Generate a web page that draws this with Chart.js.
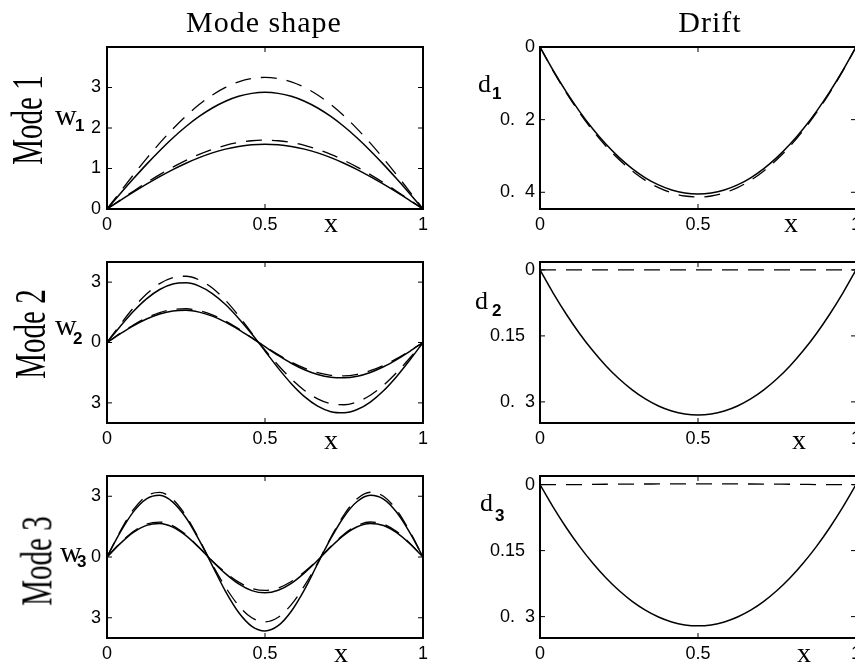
<!DOCTYPE html>
<html><head><meta charset="utf-8">
<script src="https://cdn.jsdelivr.net/npm/chart.js@4.4.1/dist/chart.umd.min.js"></script>
<style>
html,body{margin:0;padding:0;background:#fff;width:855px;height:665px;overflow:hidden;position:relative}
.box{position:absolute}
.box canvas{display:block}
.t{position:absolute;font-family:"Liberation Serif","Times New Roman",serif;line-height:1;color:#000;white-space:nowrap}
.s{position:absolute;font-family:"Liberation Sans",sans-serif;font-weight:bold;font-size:17px;line-height:1;color:#000}
.r{transform:translate(-50%,-50%) rotate(-90deg) scale(1,1.55);font-size:29px}
.c{transform:translateX(-50%)}
</style></head><body>

<div class="box" style="left:50px;top:27px"><canvas id="c1" width="388" height="212"></canvas></div>
<div class="box" style="left:480px;top:27px"><canvas id="c2" width="391" height="212"></canvas></div>
<div class="box" style="left:50px;top:242px"><canvas id="c3" width="388" height="211"></canvas></div>
<div class="box" style="left:480px;top:242px"><canvas id="c4" width="391" height="211"></canvas></div>
<div class="box" style="left:50px;top:456px"><canvas id="c5" width="388" height="212"></canvas></div>
<div class="box" style="left:480px;top:456px"><canvas id="c6" width="391" height="212"></canvas></div>

<div class="t c" style="left:264px;top:7px;font-size:30px;letter-spacing:1px">Mode shape</div>
<div class="t c" style="left:710px;top:7px;font-size:30px;letter-spacing:1px">Drift</div>

<div class="t r" style="left:27px;top:120px">Mode 1</div>
<div class="t r" style="left:30px;top:334px">Mode 2</div>
<div class="t r" style="left:37px;top:561px">Mode 3</div>

<div class="t" style="left:55px;top:100px;font-size:30px">w</div><div class="s" style="left:75px;top:117px">1</div>
<div class="t" style="left:55px;top:310px;font-size:30px">w</div><div class="s" style="left:73px;top:330px">2</div>
<div class="t" style="left:60px;top:537px;font-size:30px">w</div><div class="s" style="left:77px;top:553px">3</div>

<div class="t" style="left:478px;top:71px;font-size:26px">d</div><div class="s" style="left:492px;top:85px">1</div>
<div class="t" style="left:475px;top:288px;font-size:26px">d</div><div class="s" style="left:492px;top:302px">2</div>
<div class="t" style="left:480px;top:490px;font-size:26px">d</div><div class="s" style="left:495px;top:507px">3</div>

<div class="t c" style="left:331px;top:209px;font-size:28px">x</div>
<div class="t c" style="left:791px;top:209px;font-size:28px">x</div>
<div class="t c" style="left:331px;top:426px;font-size:28px">x</div>
<div class="t c" style="left:799px;top:426px;font-size:28px">x</div>
<div class="t c" style="left:341px;top:639px;font-size:28px">x</div>
<div class="t c" style="left:804px;top:639px;font-size:28px">x</div>

<script>
// ---------- data ----------
const xs = [0,0.0417,0.0833,0.125,0.1667,0.2083,0.25,0.2917,0.3333,0.375,0.4167,0.4583,0.5,0.5417,0.5833,0.625,0.6667,0.7083,0.75,0.7917,0.8333,0.875,0.9167,0.9583,1];
const xTickValues = [0, 0.5, 1];
const xTickLabels = ["0", "0.5", "1"];

// Mode 1
const m1SolidLarge = [0,0.376,0.745,1.102,1.44,1.753,2.036,2.285,2.494,2.661,2.782,2.855,2.88,2.855,2.782,2.661,2.494,2.285,2.036,1.753,1.44,1.102,0.745,0.376,0];
const m1DashLarge  = [0,0.424,0.841,1.244,1.625,1.979,2.298,2.579,2.815,3.003,3.139,3.222,3.25,3.222,3.139,3.003,2.815,2.579,2.298,1.979,1.625,1.244,0.841,0.424,0];
const m1SolidSmall = [0,0.209,0.414,0.612,0.8,0.974,1.131,1.269,1.386,1.478,1.545,1.586,1.6,1.586,1.545,1.478,1.386,1.269,1.131,0.974,0.8,0.612,0.414,0.209,0];
const m1DashSmall  = [0,0.222,0.44,0.651,0.85,1.035,1.202,1.349,1.472,1.571,1.642,1.685,1.7,1.685,1.642,1.571,1.472,1.349,1.202,1.035,0.85,0.651,0.44,0.222,0];
const m1YTicks = [0,1,2,3];
const m1YLabels = ["0","1","2","3"];

// Mode 2
const m2SolidLarge = [0,0.8,1.541,2.168,2.634,2.906,2.964,2.802,2.433,1.886,1.196,0.419,-0.42,-1.274,-2.046,-2.689,-3.162,-3.436,-3.493,-3.331,-2.958,-2.4,-1.687,-0.871,0];
const m2DashLarge  = [0,0.888,1.713,2.409,2.927,3.227,3.293,3.112,2.703,2.096,1.33,0.465,-0.372,-1.128,-1.814,-2.381,-2.799,-3.044,-3.094,-2.951,-2.62,-2.127,-1.494,-0.772,0];
const m2SolidSmall = [0,0.43,0.83,1.168,1.419,1.565,1.597,1.509,1.31,1.016,0.645,0.226,-0.211,-0.641,-1.03,-1.352,-1.589,-1.728,-1.756,-1.676,-1.487,-1.207,-0.848,-0.438,0];
const m2DashSmall  = [0,0.452,0.872,1.226,1.49,1.643,1.677,1.584,1.376,1.067,0.677,0.237,-0.199,-0.604,-0.971,-1.275,-1.499,-1.63,-1.657,-1.58,-1.403,-1.139,-0.8,-0.413,0];
const m23YTicks = [-3,0,3];
const m23YLabels = ["3","0","3"];

// Mode 3
const m3SolidLarge = [0,1.211,2.227,2.87,3.044,2.711,1.937,0.836,-0.427,-1.697,-2.741,-3.424,-3.65,-3.391,-2.679,-1.613,-0.332,0.915,1.989,2.739,3.047,2.861,2.208,1.202,0];
const m3DashLarge  = [0,1.27,2.336,3.011,3.194,2.845,2.032,0.877,-0.374,-1.488,-2.403,-3.002,-3.2,-2.973,-2.349,-1.414,-0.291,0.96,2.086,2.874,3.197,3.002,2.317,1.261,0];
const m3SolidSmall = [0,0.659,1.212,1.562,1.657,1.476,1.054,0.455,-0.207,-0.823,-1.329,-1.66,-1.77,-1.644,-1.299,-0.782,-0.161,0.498,1.082,1.491,1.658,1.557,1.202,0.654,0];
const m3DashSmall  = [0,0.687,1.263,1.628,1.727,1.538,1.099,0.474,-0.193,-0.767,-1.239,-1.548,-1.65,-1.533,-1.211,-0.729,-0.15,0.519,1.128,1.554,1.728,1.623,1.253,0.682,0];

// Drift
const d1Solid = [0,-0.0647,-0.1238,-0.1772,-0.225,-0.2672,-0.3038,-0.3347,-0.36,-0.3797,-0.3937,-0.4022,-0.405,-0.4022,-0.3937,-0.3797,-0.36,-0.3347,-0.3038,-0.2672,-0.225,-0.1772,-0.1238,-0.0647,0];
const d1Dash  = [0,-0.066,-0.1262,-0.1807,-0.2295,-0.2725,-0.3098,-0.3413,-0.3671,-0.3872,-0.4015,-0.4102,-0.413,-0.4102,-0.4015,-0.3872,-0.3671,-0.3413,-0.3098,-0.2725,-0.2295,-0.1807,-0.1262,-0.066,0];
const d1YTicks = [-0.4,-0.2,0];
const d1YLabels = ["0.  4","0.  2","0"];

const d2Solid = [0,-0.0527,-0.1008,-0.1444,-0.1833,-0.2177,-0.2475,-0.2727,-0.2933,-0.3094,-0.3208,-0.3277,-0.33,-0.3277,-0.3208,-0.3094,-0.2933,-0.2727,-0.2475,-0.2177,-0.1833,-0.1444,-0.1008,-0.0527,0];
const d2Dash  = [0,0,0,0,0,0,0,0,0,0,0,0,0,0,0,0,0,0,0,0,0,0,0,0,0];
const d3Solid = [0,-0.0513,-0.0981,-0.1404,-0.1783,-0.2118,-0.2408,-0.2653,-0.2853,-0.3009,-0.3121,-0.3188,-0.321,-0.3188,-0.3121,-0.3009,-0.2853,-0.2653,-0.2408,-0.2118,-0.1783,-0.1404,-0.0981,-0.0513,0];
const d3Dash  = [0,0,0,0,0.0005,0.0008,0.001,0.0012,0.0013,0.0014,0.0015,0.0015,0.0015,0.0015,0.0015,0.0014,0.0013,0.0012,0.001,0.0008,0.0005,0,0,0,0];
const d23YTicks = [-0.3,-0.15,0];
const d23YLabels = ["0.  3","0.15  ","0"];

// ---------- drawing ----------
const pts = ys => ys.map((y, i) => ({x: xs[i], y}));
const solid = ys => ({data: pts(ys), borderColor:'#000', borderWidth:1.5, fill:false});
const dash  = ys => ({data: pts(ys), borderColor:'#000', borderWidth:1.3, borderDash:[16,10], fill:false});

const frame = {
  id:'frame',
  afterDraw(chart){
    const {ctx, chartArea:a} = chart;
    const x = chart.scales.x, y = chart.scales.y;
    ctx.save();
    ctx.strokeStyle = '#000';
    ctx.lineWidth = 2;
    ctx.strokeRect(a.left, a.top, a.right - a.left, a.bottom - a.top);
    ctx.lineWidth = 1;
    ctx.beginPath();
    x.ticks.forEach(t => {
      const p = x.getPixelForValue(t.value);
      ctx.moveTo(p, a.bottom); ctx.lineTo(p, a.bottom - 5);
      ctx.moveTo(p, a.top); ctx.lineTo(p, a.top + 5);
    });
    y.ticks.forEach(t => {
      const p = y.getPixelForValue(t.value);
      ctx.moveTo(a.left, p); ctx.lineTo(a.left + 5, p);
      ctx.moveTo(a.right, p); ctx.lineTo(a.right - 5, p);
    });
    ctx.stroke();
    ctx.restore();
  }
};

function makeChart(id, datasets, ymin, ymax, yTicks, yLabels, yWidth, yPad) {
  return new Chart(document.getElementById(id), {
    type: 'line',
    data: {datasets},
    options: {
      responsive: false, animation: false,
      layout: {padding: {top: 20, right: 15, left: 0, bottom: 0}},
      plugins: {legend: {display: false}, tooltip: {enabled: false}},
      elements: {point: {radius: 0}, line: {cubicInterpolationMode: 'monotone'}},
      scales: {
        x: {
          type: 'linear', min: 0, max: 1,
          grid: {display: false, drawTicks: false}, border: {display: false},
          afterBuildTicks: s => { s.ticks = xTickValues.map(v => ({value: v})); },
          afterFit: s => { s.height = 30; },
          ticks: {padding: 5, color: '#000', maxRotation: 0, autoSkip: false,
                  font: {family: 'Liberation Sans', size: 18},
                  callback: (v, i) => xTickLabels[i]}
        },
        y: {
          type: 'linear', min: ymin, max: ymax,
          grid: {display: false, drawTicks: false}, border: {display: false},
          afterBuildTicks: s => { s.ticks = yTicks.map(v => ({value: v})); },
          afterFit: s => { s.width = yWidth; },
          ticks: {padding: yPad, color: '#000', autoSkip: false,
                  font: {family: 'Liberation Sans', size: 18},
                  callback: (v, i) => yLabels[i]}
        }
      }
    },
    plugins: [frame]
  });
}

makeChart('c1', [dash(m1DashLarge), dash(m1DashSmall), solid(m1SolidLarge), solid(m1SolidSmall)], 0, 4, m1YTicks, m1YLabels, 57, 6);
makeChart('c2', [dash(d1Dash), solid(d1Solid)], -0.446, 0, d1YTicks, d1YLabels, 60, 5);
makeChart('c3', [dash(m2DashLarge), dash(m2DashSmall), solid(m2SolidLarge), solid(m2SolidSmall)], -4, 4, m23YTicks, m23YLabels, 57, 6);
makeChart('c4', [dash(d2Dash), solid(d2Solid)], -0.348, 0.018, d23YTicks, d23YLabels, 60, 5);
makeChart('c5', [dash(m3DashLarge), dash(m3DashSmall), solid(m3SolidLarge), solid(m3SolidSmall)], -4, 4, m23YTicks, m23YLabels, 57, 6);
makeChart('c6', [dash(d3Dash), solid(d3Solid)], -0.3486, 0.0195, d23YTicks, d23YLabels, 60, 5);
</script>
</body></html>
